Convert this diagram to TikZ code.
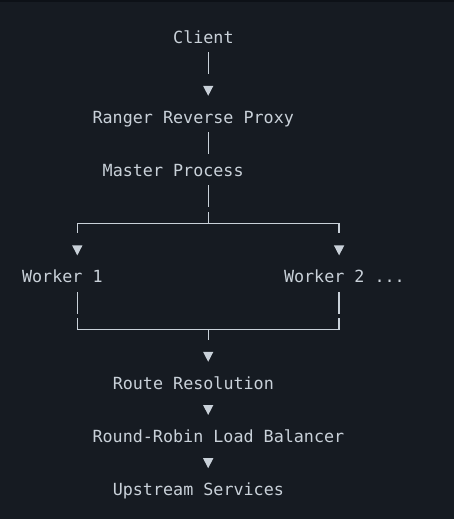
\documentclass[tikz,border=0pt]{standalone}
\usepackage{fontspec}
\setmonofont{DejaVu Sans Mono}
\usetikzlibrary{arrows.meta}
\definecolor{fondo}{HTML}{161B22}
\definecolor{borde}{HTML}{0D1117}
\definecolor{tinta}{HTML}{C9D1D9}

\begin{document}
\begin{tikzpicture}[x=1pt,y=-1pt,
    txt/.style={anchor=base west, inner sep=0pt, text height=12.3pt, text depth=0pt,
      text=tinta, font=\ttfamily\fontsize{16.72}{20}\selectfont},
    wire/.style={draw=tinta, line width=1.3pt},
    arrowdown/.style={-{Triangle[length=10pt,width=10pt]}, shorten >=15pt},
    gapafter/.style={dash pattern=on #1 off 80pt}]
    % Fondo del bloque
    \fill[fondo] (0,0) rectangle (454,519);
    \fill[borde] (0,0) rectangle (454,2);
    \useasboundingbox (0,0) rectangle (454,519);

    % Columnas de las lineas
    \coordinate (colL) at (77.3,0);
    \coordinate (colM) at (208.2,0);
    \coordinate (colR) at (339.1,0);
    \coordinate (split) at (208.2,223.3);
    \coordinate (merge) at (208.2,329.5);

    % Etiquetas
    \node[txt] (client)   at (173.0,43.5)  {Client};
    \node[txt] (proxy)    at (92.4,123.3)  {Ranger Reverse Proxy};
    \node[txt] (master)   at (102.5,176.5) {Master Process};
    \node[txt] (worker1)  at (21.9,282.9)  {Worker 1};
    \node[txt] (worker2)  at (283.8,282.9) {Worker 2 ...};
    \node[txt] (route)    at (112.6,389.3) {Route Resolution};
    \node[txt] (rr)       at (92.4,442.5)  {Round-Robin Load Balancer};
    \node[txt] (upstream) at (112.6,495.7) {Upstream Services};

    % Conectores
    \draw[wire, arrowdown, gapafter=21.5pt, shorten <=8.5pt] (client.south -| colM) -- (proxy.north -| colM);
    \draw[wire, shorten <=8.7pt, shorten >=10.2pt] (proxy.south -| colM) -- (master.north -| colM);

    % Reparto a los workers
    \draw[wire, shorten <=8.7pt, dash pattern=on 21.7pt off 4.8pt on 40pt off 1pt] (master.south -| colM) -- (split);
    \draw[wire, arrowdown, gapafter=140.9pt] (split) -| (worker1.north -| colL);
    \draw[wire, arrowdown, gapafter=140.9pt] (split) -| (worker2.north -| colR);

    % Vuelta desde los workers
    \draw[wire, shorten <=8.7pt, dash pattern=on 21.7pt off 4.6pt on 300pt off 1pt] (worker1.south -| colL) |- (merge);
    \draw[wire, shorten <=8.7pt, dash pattern=on 21.7pt off 4.6pt on 300pt off 1pt] (worker2.south -| colR) |- (merge);
    \draw[wire, arrowdown, gapafter=10.5pt] (merge) -- (route.north -| colM);

    \draw[wire, arrowdown, gapafter=0pt] (route.south -| colM) -- (rr.north -| colM);
    \draw[wire, arrowdown, gapafter=0pt] (rr.south -| colM) -- (upstream.north -| colM);
\end{tikzpicture}
\end{document}
